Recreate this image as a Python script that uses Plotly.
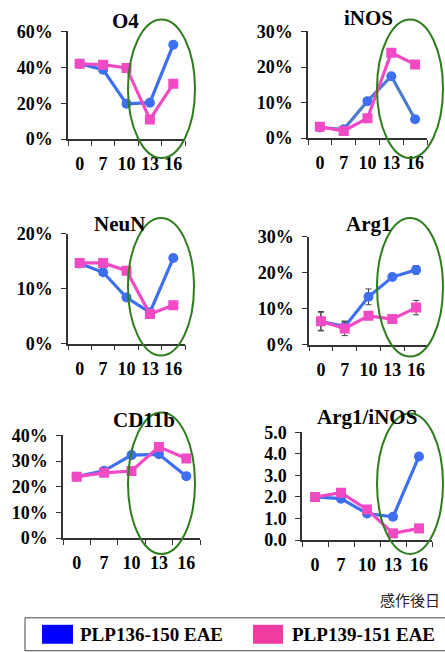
import plotly.graph_objects as go

W, H = 445, 652

days = ["0", "7", "10", "13", "16"]

o4_blue = [42.0, 38.7, 19.7, 20.3, 52.6]
o4_pink = [42.0, 41.5, 39.7, 11.0, 30.8]

inos_blue = [3.0, 2.5, 10.4, 17.4, 5.3]
inos_pink = [3.2, 2.0, 5.6, 24.0, 20.7]

neun_blue = [14.6, 13.0, 8.4, 5.7, 15.6]
neun_pink = [14.7, 14.7, 13.3, 5.4, 7.0]

arg1_blue = [6.5, 5.0, 13.3, 18.8, 20.8]
arg1_blue_err = [2.5, 1.5, 2.2, 0.8, 1.2]
arg1_pink = [6.5, 4.5, 8.0, 7.1, 10.3]
arg1_pink_err = [2.7, 2.0, 1.0, 0.8, 2.0]

cd11b_blue = [23.9, 26.2, 32.3, 32.6, 24.1]
cd11b_pink = [23.9, 25.4, 26.1, 35.5, 31.0]

ratio_blue = [2.0, 1.92, 1.23, 1.08, 3.88]
ratio_pink = [2.0, 2.2, 1.42, 0.31, 0.54]

titles = ["O4", "iNOS", "NeuN", "Arg1", "CD11b", "Arg1/iNOS"]
y_max = [60, 30, 20, 30, 40, 5]
y_dtick = [20, 10, 10, 10, 10, 1]

legend_names = ["PLP136-150 EAE", "PLP139-151 EAE"]
x_axis_label = "感作後日"

BLUE = "#3d6ff0"
PINK = "#f04ac4"
GREEN = "#2e7d1e"
AXIS = "#333333"
SERIF = "Liberation Serif, Times New Roman, serif"

def px(x):
    return x / W

def py(y):
    # compensate for the vertical mapping observed in the photographed page
    yy = (y - 8.5) / 0.972
    return 1 - yy / H

# pixel boxes: (x0, x1, ytop, ybottom)
boxes = [
    (68, 185, 30, 138),
    (308, 427, 30, 137),
    (68, 185, 233, 343),
    (309, 428, 236, 344),
    (63, 200, 435, 538),
    (302, 432, 432, 540),
]
title_pos = [(125, 20), (368, 17), (119, 223), (369, 223), (144, 420), (367, 417)]
ellipses = [
    (128, 195, 18, 157),
    (377, 443, 18, 157),
    (128, 194, 217, 355),
    (377, 443, 217, 356),
    (128, 195, 412, 554),
    (377, 443, 413, 554),
]

series = [
    (o4_blue, o4_pink, None, None),
    (inos_blue, inos_pink, None, None),
    (neun_blue, neun_pink, None, None),
    (arg1_blue, arg1_pink, arg1_blue_err, arg1_pink_err),
    (cd11b_blue, cd11b_pink, None, None),
    (ratio_blue, ratio_pink, None, None),
]

fig = go.Figure()
layout = dict(
    width=W, height=H,
    margin=dict(l=0, r=0, t=0, b=0),
    paper_bgcolor="white", plot_bgcolor="white",
    showlegend=False,
)
shapes = []
annotations = []

for i, (b, p, be, pe) in enumerate(series):
    n = i + 1
    xa = "x" if n == 1 else f"x{n}"
    ya = "y" if n == 1 else f"y{n}"
    eb = dict(type="data", array=be, visible=True, color="#444", thickness=1, width=3) if be else None
    ep = dict(type="data", array=pe, visible=True, color="#444", thickness=1, width=3) if pe else None
    blue_col = "#4f7cc8" if n == 2 else BLUE
    fig.add_trace(go.Scatter(
        x=days, y=b, xaxis=xa, yaxis=ya, mode="lines+markers",
        line=dict(color=blue_col, width=3.2),
        marker=dict(symbol="circle", size=10, color=BLUE),
        error_y=eb, name=legend_names[0]))
    fig.add_trace(go.Scatter(
        x=days, y=p, xaxis=xa, yaxis=ya, mode="lines+markers",
        line=dict(color=PINK, width=3.2),
        marker=dict(symbol="square", size=10, color=PINK),
        error_y=ep, name=legend_names[1]))

    x0, x1, yt, yb = boxes[i]
    key_x = "xaxis" if n == 1 else f"xaxis{n}"
    key_y = "yaxis" if n == 1 else f"yaxis{n}"
    layout[key_x] = dict(
        domain=[px(x0), px(x1)], anchor=ya, type="category",
        range=[-0.5, 4.5], tickson="boundaries", ticks="outside", ticklen=5,
        tickcolor=AXIS, showline=True, linecolor=AXIS, linewidth=1.5,
        showgrid=False, zeroline=False, ticklabelstandoff=8, tickangle=0,
        tickfont=dict(family=SERIF, size=18, color="black", weight="bold"),
    )
    ymx = y_max[i]
    yfmt = dict(tickformat=".1f") if n == 6 else dict(ticksuffix="%")
    layout[key_y] = dict(
        domain=[py(yb), py(yt)], anchor=xa, range=[0, ymx],
        dtick=y_dtick[i], tick0=0, ticks="outside", ticklen=5, tickcolor=AXIS,
        showline=True, linecolor=AXIS, linewidth=1.5, showgrid=False,
        zeroline=False, ticklabelstandoff=5,
        tickfont=dict(family=SERIF, size=18, color="black", weight="bold"),
        **yfmt,
    )
    tx, ty = title_pos[i]
    annotations.append(dict(
        text=titles[i], x=px(tx), y=py(ty), xref="paper", yref="paper",
        showarrow=False, xanchor="center", yanchor="middle",
        font=dict(family=SERIF, size=21, color="black", weight="bold"),
    ))
    ex0, ex1, et, ebm = ellipses[i]
    shapes.append(dict(
        type="circle", xref="paper", yref="paper",
        x0=px(ex0), x1=px(ex1), y0=py(ebm), y1=py(et),
        line=dict(color=GREEN, width=2), layer="above",
    ))

annotations.append(dict(
    text=x_axis_label, x=px(442), y=py(600), xref="paper", yref="paper",
    showarrow=False, xanchor="right", yanchor="middle",
    font=dict(family="Noto Sans CJK JP", size=15, color="#222"),
))

# legend box
shapes.append(dict(type="rect", xref="paper", yref="paper",
                   x0=px(25), x1=px(447), y0=py(651), y1=py(618),
                   line=dict(color="#444", width=1), fillcolor="white", layer="below"))
shapes.append(dict(type="rect", xref="paper", yref="paper",
                   x0=px(42), x1=px(73), y0=py(644), y1=py(625),
                   line=dict(color="#0000ff", width=0), fillcolor="#0000ff"))
shapes.append(dict(type="rect", xref="paper", yref="paper",
                   x0=px(253), x1=px(283), y0=py(644), y1=py(625),
                   line=dict(color="#f03ca0", width=0), fillcolor="#f03ca0"))
annotations.append(dict(
    text=legend_names[0], x=px(78), y=py(635), xref="paper", yref="paper",
    showarrow=False, xanchor="left", yanchor="middle",
    font=dict(family=SERIF, size=19, color="black", weight="bold"),
))
annotations.append(dict(
    text=legend_names[1], x=px(290), y=py(635), xref="paper", yref="paper",
    showarrow=False, xanchor="left", yanchor="middle",
    font=dict(family=SERIF, size=19, color="black", weight="bold"),
))

layout["shapes"] = shapes
layout["annotations"] = annotations
fig.update_layout(**layout)

POST = (
    "document.documentElement.style.margin='0';"
    "document.documentElement.style.overflow='hidden';"
    "document.body.style.margin='0';"
    "document.body.style.overflow='hidden';"
    "var gd=document.getElementById('{plot_id}');"
    "gd.style.position='fixed';gd.style.top='0px';gd.style.left='0px';"
)
fig.write_html("out.html", config={"displayModeBar": False}, post_script=POST)
